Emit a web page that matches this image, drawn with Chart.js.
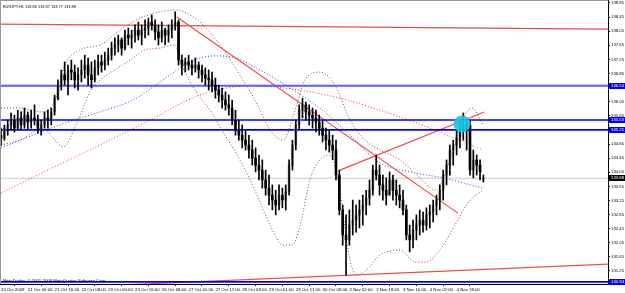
<!DOCTYPE html>
<html><head><meta charset="utf-8">
<script src="https://cdn.jsdelivr.net/npm/chart.js@4/dist/chart.umd.min.js"></script>
<style>html,body{margin:0;padding:0;background:#fff;overflow:hidden}#wrap{position:relative;width:625px;height:293px}</style>
</head><body><div id="wrap"><canvas id="c" width="625" height="293"></canvas></div>
<script>
const symbolTitle = 'EURJPY,H1 133.86 133.97 133.77 133.88';
const copyright = 'MetaTrader, \u00a9 2001-2009 MetaQuotes Software Corp.';
const timeLabels = ['20 Oct 2009','21 Oct 00:00','21 Oct 16:00','22 Oct 08:00','23 Oct 00:00','23 Oct 16:00','26 Oct 08:00','27 Oct 01:00','27 Oct 17:00','28 Oct 09:00','29 Oct 01:00','29 Oct 17:00','30 Oct 09:00','2 Nov 02:00','2 Nov 18:00','3 Nov 10:00','4 Nov 02:00','4 Nov 18:00'];
const timeLabelBars = [0,8,16,24,32,40,48,56,64,72,80,88,96,104,112,120,128,136];
const priceTicks = [138.85,138.45,138.05,137.65,137.25,136.85,136.45,136.05,135.65,135.25,134.85,134.45,134.05,133.65,133.25,132.85,132.45,132.05,131.65,131.25];

const opens = [135.10,135.02,135.30,135.39,135.53,135.30,135.59,135.39,135.67,135.47,
135.59,135.53,135.30,135.39,135.59,135.53,135.76,136.15,136.52,136.81,
136.67,136.95,136.89,136.67,136.81,136.95,137.09,136.81,136.67,137.01,
137.18,137.09,137.23,137.37,137.57,137.66,137.80,137.57,137.94,137.86,
137.94,138.08,137.94,138.08,138.14,138.31,138.23,138.03,137.86,138.08,
137.94,138.08,138.23,138.31,137.23,137.09,137.18,137.09,137.01,137.09,
136.95,136.81,136.72,136.67,136.52,136.38,136.24,136.10,135.96,135.87,
135.53,135.25,135.10,134.96,134.82,134.68,134.45,134.25,134.11,133.83,
133.60,133.40,133.26,133.12,133.40,133.26,133.49,134.25,134.82,135.39,
135.81,135.96,135.76,135.67,135.59,135.47,135.30,135.10,134.96,134.82,
134.68,133.97,132.98,132.27,132.13,132.55,132.69,132.84,132.98,133.12,
133.32,133.54,134.11,133.97,133.69,133.54,133.40,133.83,133.54,133.40,
133.26,132.98,132.27,132.13,132.41,132.55,132.69,132.55,132.84,132.92,
133.12,133.26,133.54,133.97,134.25,134.68,134.82,135.02,135.25,135.39,
135.39,134.11,134.40,134.25,133.86];
const highs = [135.30,135.39,135.53,135.73,135.67,135.81,135.76,135.87,135.76,135.81,
135.96,135.67,135.53,135.76,135.81,135.87,136.24,136.67,136.95,137.18,
137.09,137.23,137.09,137.01,137.23,137.37,137.29,137.18,137.23,137.37,
137.37,137.46,137.57,137.74,137.86,137.94,137.86,138.08,138.14,138.08,
138.23,138.31,138.23,138.37,138.42,138.51,138.37,138.23,138.31,138.14,
138.23,138.37,138.60,138.37,137.37,137.29,137.37,137.23,137.29,137.18,
137.09,137.01,136.95,136.89,136.72,136.52,136.44,136.33,136.24,136.10,
135.81,135.53,135.39,135.25,135.10,134.96,134.74,134.54,134.40,134.11,
133.97,133.69,133.54,133.69,133.60,133.69,134.40,134.96,135.53,135.96,
136.15,136.04,135.96,135.87,135.81,135.67,135.53,135.30,135.25,135.10,
134.96,134.11,133.12,132.84,132.98,133.26,133.12,133.26,133.40,133.54,
133.83,134.25,134.54,134.25,133.97,133.89,134.06,133.97,133.83,133.69,
133.54,133.12,132.55,132.69,132.84,132.98,132.92,133.04,133.12,133.26,
133.40,133.69,134.11,134.40,134.82,134.96,135.25,135.47,135.73,135.59,
135.53,134.68,134.54,134.40,133.97];
const lows = [134.82,134.96,135.10,135.25,135.19,135.25,135.25,135.30,135.25,135.30,
135.39,135.16,135.10,135.30,135.30,135.39,135.67,136.10,136.38,136.52,
136.24,136.67,136.44,136.38,136.61,136.72,136.52,136.44,136.61,136.81,
136.89,136.95,137.09,137.23,137.37,137.46,137.37,137.52,137.66,137.57,
137.74,137.80,137.66,137.86,137.94,138.08,137.80,137.66,137.74,137.66,
137.74,137.86,138.08,137.09,136.81,136.89,136.95,136.81,136.89,136.72,
136.61,136.52,136.38,136.33,136.15,136.04,135.87,135.81,135.67,135.39,
135.10,134.96,134.74,134.68,134.45,134.25,134.06,133.83,133.60,133.40,
133.12,132.98,132.84,132.98,133.04,132.98,133.40,134.11,134.68,135.25,
135.59,135.53,135.39,135.30,135.19,135.10,134.91,134.68,134.62,134.40,
133.83,132.84,131.98,131.13,131.98,132.27,132.35,132.47,132.55,132.84,
133.12,133.40,133.83,133.40,133.26,133.12,133.40,133.26,133.12,133.04,
132.84,132.13,131.79,131.90,132.13,132.27,132.35,132.41,132.47,132.64,
132.84,132.98,133.26,133.69,133.97,134.25,134.54,134.74,134.96,134.68,
133.97,133.89,133.97,133.83,133.77];
const closes = [135.02,135.30,135.39,135.53,135.30,135.59,135.39,135.67,135.47,135.59,
135.53,135.30,135.39,135.59,135.53,135.76,136.15,136.52,136.81,136.67,
136.95,136.89,136.67,136.81,136.95,137.09,136.81,136.67,137.01,137.18,
137.09,137.23,137.37,137.57,137.66,137.80,137.57,137.94,137.86,137.94,
138.08,137.94,138.08,138.14,138.31,138.23,138.03,137.86,138.08,137.94,
138.08,138.23,138.31,137.23,137.09,137.18,137.09,137.01,137.09,136.95,
136.81,136.72,136.67,136.52,136.38,136.24,136.10,135.96,135.87,135.53,
135.25,135.10,134.96,134.82,134.68,134.45,134.25,134.11,133.83,133.60,
133.40,133.26,133.12,133.40,133.26,133.49,134.25,134.82,135.39,135.81,
135.96,135.76,135.67,135.59,135.47,135.30,135.10,134.96,134.82,134.68,
133.97,132.98,132.27,132.13,132.55,132.69,132.84,132.98,133.12,133.32,
133.54,134.11,133.97,133.69,133.54,133.40,133.83,133.54,133.40,133.26,
132.98,132.27,132.13,132.41,132.55,132.69,132.55,132.84,132.92,133.12,
133.26,133.54,133.97,134.25,134.68,134.82,135.02,135.25,135.39,135.39,
134.11,134.40,134.25,134.06,133.88];

// indicator lines as [bar, price]
const maFast = [[0,134.74],[9.5,135.10],[19.7,135.47],[29.5,135.76],[39.4,136.10],[48.4,136.67],[56.4,137.18],[63.9,137.35],[69.9,137.29],[77.3,136.95],[86.3,136.44],[95.2,135.87],[104.2,135.10],[113.1,134.31],[122.1,134.06],[131.9,133.89],[143.9,133.60]];
const maSlow = [[0,133.46],[14.6,134.14],[29.5,134.82],[44.5,135.53],[59.4,136.24],[74.3,136.50],[89.2,136.38],[101.2,136.15],[113.1,135.81],[128.1,135.30],[143.9,134.68]];
const bandUpper = [[0,135.87],[5.7,135.87],[12.5,135.76],[16.1,136.10],[19.1,137.09],[23.6,137.52],[29.6,137.66],[35.5,138.08],[41.5,138.42],[47.5,138.60],[52.8,138.65],[55.8,138.54],[59.4,138.31],[65.4,137.66],[71.3,136.81],[75.8,136.10],[80.3,135.25],[84.2,134.96],[87.8,135.81],[90.7,136.67],[95.2,136.89],[99.7,136.52],[104.2,135.53],[108.7,134.96],[113.1,134.68],[119.1,134.40],[125.1,133.89],[129.6,133.54],[134.0,134.40],[137.6,135.53],[140.6,135.87],[143.9,135.39]];
const bandLower = [[0,134.82],[5.7,134.96],[12.5,135.30],[16.1,134.96],[18.5,134.77],[22.7,135.45],[26.6,136.33],[29.6,136.67],[34.0,136.95],[38.5,137.23],[43.0,137.52],[47.5,137.57],[51.9,137.66],[54.0,137.09],[57.9,136.38],[62.4,135.81],[66.9,135.10],[71.3,134.40],[75.8,133.54],[80.3,132.55],[84.2,131.98],[86.9,131.98],[89.3,132.55],[92.2,133.83],[95.2,134.40],[98.2,134.54],[101.2,133.54],[103.6,131.84],[106.0,131.13],[109.0,131.27],[113.1,131.70],[119.1,131.84],[123.6,131.50],[126.6,131.50],[131.0,131.84],[135.5,132.55],[140.0,133.26],[143.9,133.54]];
const trendTop = [[-0.3,138.25],[181.2,138.11]];
const trendBottom = [[37.6,130.86],[181.2,131.445]];
const trendDown = [[52.5,138.45],[136.4,132.89]];
const trendUp = [[101.2,134.11],[144.2,135.76]];
const levels = [136.50,135.53,135.25,130.94];
const lastPrice = 133.88;
const marker = [[137.6,135.42]];

const X_MIN = -0.3, X_MAX = 181.2, Y_MIN = 130.88, Y_MAX = 138.935;
const pts = a => a.map(p => ({x:p[0], y:p[1]}));
const FONT = 'Liberation Sans';
const FS = 4.3;

const wicks = highs.map((h,i)=>({x:i, y:[lows[i], h]}));
const bodies = opens.map((o,i)=>({x:i, y:[Math.min(o,closes[i]), Math.max(o,closes[i])]}));
const bodyColors = opens.map((o,i)=> closes[i] >= o ? '#8a8a8a' : '#000000');

const lineDs = (data, color, dash, width, order) => ({type:'line', data:pts(data), borderColor:color, borderWidth:width||1, borderDash:dash||[], pointRadius:0, tension:0, fill:false, order:order||3});
const smoothDs = (data, color) => ({type:'line', data:pts(data), borderColor:color, borderWidth:1, borderDash:[1,2], pointRadius:0, cubicInterpolationMode:'monotone', fill:false, order:4});

const datasets = [
  smoothDs(bandUpper,'#a03c3c'),
  smoothDs(bandLower,'#a03c3c'),
  smoothDs(maFast,'#3a3aff'),
  smoothDs(maSlow,'#ff3030'),
  lineDs([[X_MIN,lastPrice],[X_MAX,lastPrice]],'#c8c8c8',[],1,5),
  lineDs(trendTop,'#f04848',[],1.2,3),
  lineDs(trendBottom,'#f04848',[],1.2,3),
  lineDs(trendDown,'#f04848',[],1.2,3),
  lineDs(trendUp,'#f04848',[],1.2,3),
  ...levels.map((v,k)=>lineDs([[X_MIN,v],[X_MAX,v]], k===0?'#5a5aff':'#0000ff',[],k===0?2:1.6,2)),
  {type:'bar', data:wicks, backgroundColor:'#000', barThickness:1, grouped:false, borderWidth:0, order:1},
  {type:'bar', data:bodies, backgroundColor:bodyColors, borderWidth:0, borderSkipped:false, barThickness:2, minBarLength:1, grouped:false, order:1},
  {type:'scatter', data:pts(marker), pointRadius:8.5, pointBackgroundColor:'rgba(20,200,225,0.9)', pointBorderWidth:0, order:0}
];

const overlay = {
  id:'overlay',
  afterDraw(chart){
    const ctx = chart.ctx, y = chart.scales.y, a = chart.chartArea;
    ctx.save();
    ctx.textBaseline = 'middle';
    ctx.fillStyle = '#000';
    ctx.textAlign = 'left';
    ctx.font = '3.9px "'+FONT+'"';
    ctx.fillText(symbolTitle, 3, 7);
    ctx.font = FS+'px "'+FONT+'"';
    ctx.fillText(copyright, 3, 281);
    const box = (v, bg) => {
      const py = Math.round(y.getPixelForValue(v));
      ctx.fillStyle = bg; ctx.fillRect(a.right+1, py-3, 16, 6);
      ctx.fillStyle = '#fff'; ctx.fillText(v.toFixed(2), a.right+3, py);
    };
    levels.forEach(v=>box(v,'#0000ff'));
    box(lastPrice,'#000000');
    ctx.strokeStyle = '#000'; ctx.lineWidth = 1;
    ctx.beginPath(); ctx.moveTo(a.right+0.5, 0); ctx.lineTo(a.right+0.5, a.bottom+0.5); ctx.lineTo(0, a.bottom+0.5); ctx.stroke();
    ctx.strokeStyle = '#999';
    ctx.beginPath(); ctx.moveTo(0.5, 0); ctx.lineTo(0.5, a.bottom); ctx.moveTo(0,0.5); ctx.lineTo(a.right,0.5); ctx.stroke();
    ctx.restore();
  }
};

new Chart(document.getElementById('c'), {
  type:'bar',
  data:{datasets},
  options:{
    responsive:false, animation:false, events:[],
    layout:{padding:0, autoPadding:false},
    plugins:{legend:{display:false}, tooltip:{enabled:false}, title:{display:false}},
    scales:{
      x:{type:'linear', min:X_MIN, max:X_MAX, offset:false,
        afterBuildTicks(s){ s.ticks = timeLabelBars.map(v=>({value:v})); },
        afterFit(s){ s.height = 9; s.paddingLeft = 0; s.paddingRight = 0; },
        ticks:{autoSkip:false, maxRotation:0, align:'start', padding:1, color:'#000', font:{family:FONT, size:FS},
          callback:(v)=>{const k = timeLabelBars.indexOf(v); return k>=0 ? timeLabels[k] : '';}},
        grid:{display:true, drawOnChartArea:false, drawTicks:true, tickLength:2, color:'#000'},
        border:{display:false}},
      y:{type:'linear', position:'right', min:Y_MIN, max:Y_MAX,
        afterBuildTicks(s){ s.ticks = priceTicks.map(v=>({value:v})); },
        afterFit(s){ s.width = 17; s.paddingTop = 0; s.paddingBottom = 0; },
        ticks:{padding:1, color:'#000', font:{family:FONT, size:FS}, callback:v=>v.toFixed(2)},
        grid:{display:true, drawOnChartArea:false, drawTicks:true, tickLength:2, color:'#000'},
        border:{display:false}}
    }
  },
  plugins:[overlay]
});
</script></body></html>
